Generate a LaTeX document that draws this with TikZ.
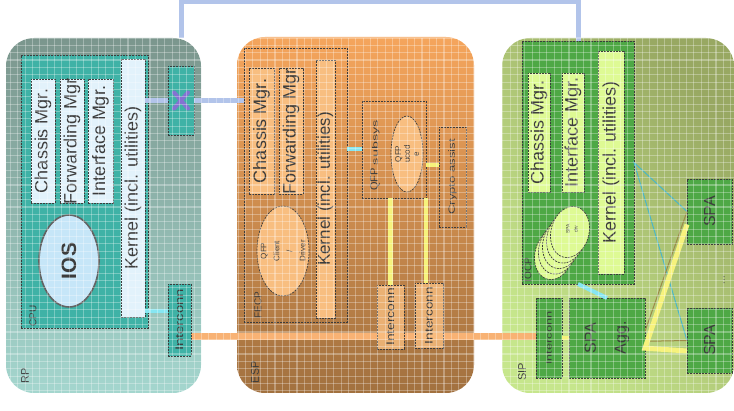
\documentclass[tikz,border=0pt]{standalone}
\usepackage{fontspec}
\setmainfont{Liberation Sans}
\usetikzlibrary{shapes.geometric,calc}
\pgfdeclarelayer{blocks}
\pgfdeclarelayer{lines}
\pgfsetlayers{blocks,lines,main}
\definecolor{rpTop}{HTML}{7B968D}
\definecolor{rpBot}{HTML}{A4D6CE}
\definecolor{teal1}{HTML}{3FB2A6}
\definecolor{ltblue}{HTML}{E2F2FB}
\definecolor{iosblue}{HTML}{C6E6F8}
\definecolor{fpTop}{HTML}{F5A55C}
\definecolor{fpBot}{HTML}{A2713F}
\definecolor{fpBox}{HTML}{F8BE80}
\definecolor{sipL}{HTML}{C6E68C}
\definecolor{sipR}{HTML}{98A862}
\definecolor{green1}{HTML}{4EA845}
\definecolor{lime1}{HTML}{DEFA94}
\definecolor{lav}{HTML}{B2C4EA}
\definecolor{orline}{HTML}{F8B274}
\definecolor{cyline}{HTML}{86E6F2}
\definecolor{yeline}{HTML}{F6F27C}
\definecolor{txtc}{HTML}{3C3C3C}
\definecolor{xcol}{HTML}{8472D2}
\definecolor{brline}{HTML}{9C8A48}
\definecolor{thincy}{HTML}{4AB6C8}
\newcommand\bx[6]{\node[#2, anchor=north west, inner sep=0pt, outer sep=0pt, minimum width={(#5)-(#3)}, minimum height={(#6)-(#4)}] (#1) at (#3,#4) {};}
\tikzset{
  blk/.style={rounded corners=28pt},
  dbox/.style={draw=txtc, line width=0.7pt, dash pattern=on 2pt off 1pt},
  lbl/.style={rotate=90, text=txtc, font=\fontsize{18}{20}\selectfont, inner sep=0pt},
  sml/.style={rotate=90, text=txtc, font=\fontsize{10}{11}\selectfont, inner sep=0pt},
  lavl/.style={draw=lav, line width=5pt},
  orl/.style={draw=orline, line width=7pt},
  cyl/.style={draw=cyline, line width=4pt},
  yel/.style={draw=yeline, line width=4.5pt},
  gridl/.style={draw=white, line width=1.1pt, opacity=0.3},
}
\begin{document}
\begin{tikzpicture}[x=1pt,y=-1pt]
\useasboundingbox (0,0) rectangle (734,411);
\coordinate (top) at (0,2);
% ---- outer blocks
\begin{pgfonlayer}{blocks}
\bx{rp}{blk, top color=rpTop, bottom color=rpBot}{6}{38}{201}{393}
\bx{fp}{blk, top color=fpTop, bottom color=fpBot}{237}{37}{474}{393}
\bx{sip}{blk, top color=sipR, bottom color=sipL, shading angle=-50}{502}{38}{734}{393}
\end{pgfonlayer}
% ---- RP
\bx{cpu}{dbox, fill=teal1}{21}{55}{148}{328}
\bx{rpcm}{dbox, fill=ltblue}{31}{79}{55}{203}
\bx{rpfm}{dbox, fill=ltblue}{60}{79}{84}{203}
\bx{rpim}{dbox, fill=ltblue}{88}{79}{113}{203}
\bx{rpk}{dbox, fill=ltblue}{121}{59}{145}{317}
\node[lbl] (rpcm-t) at (rpcm) {Chassis Mgr.};
\node[lbl] (rpfm-t) at (rpfm) {Forwarding Mgr};
\node[lbl] (rpim-t) at (rpim) {Interface Mgr.};
\node[lbl] (rpk-t) at (rpk) {Kernel (incl. utilities)};
\node[ellipse, draw=txtc!80, line width=1.6pt, fill=iosblue, minimum width=60pt, minimum height=92pt] (ios) at (69,261) {};
\node[lbl, font=\fontsize{21}{22}\selectfont\bfseries] (ios-t) at (ios) {IOS};
\node[sml] (cpu-t) at (33,316) {CPU};
\bx{sw}{dbox, fill=teal1}{168}{66}{194}{135}
\bx{rpic}{dbox, fill=teal1}{168}{284}{191}{356}
\node[sml, font=\fontsize{11}{11}\selectfont] (rpic-t) at (rpic) {\scalebox{1.35}[1]{Interconn}};
\node[sml, font=\fontsize{11}{11}\selectfont] (rp-t) at (25,376) {RP};
% ---- ESP
\bx{fecp}{dbox}{244}{48}{347}{322}
\bx{fpcm}{dbox, fill=fpBox}{249}{68}{274}{194}
\bx{fpfm}{dbox, fill=fpBox}{279}{68}{303}{194}
\bx{fpk}{dbox, fill=fpBox}{316}{60}{335}{318}
\node[lbl] (fpcm-t) at (fpcm) {Chassis Mgr.};
\node[lbl] (fpfm-t) at (fpfm) {Forwarding Mgr};
\node[lbl, font=\fontsize{17}{19}\selectfont] (fpk-t) at (fpk) {Kernel (incl. utilities)};
\node[ellipse, dbox, fill=fpBox, minimum width=52pt, minimum height=90pt] (qcd) at (283,251) {};
\node[sml, font=\fontsize{8}{13}\selectfont, align=center] (qcd-t) at (qcd) {QFP\\Client\\/\\Driver};
\node[sml, font=\fontsize{10}{11}\selectfont] (fecp-t) at (258,305) {FECP};
\bx{qfp}{dbox}{362}{101}{426}{198}
\node[sml, font=\fontsize{11}{11}\selectfont, anchor=west] (qfp-t) at (375,191) {QFP {\fontsize{8}{8}\selectfont\scalebox{1.8}[1]{subsys}}};
\node[ellipse, dbox, fill=fpBox, minimum width=32pt, minimum height=76pt] (ucode) at (407,154) {};
\node[sml, font=\fontsize{8}{9}\selectfont, align=center] (ucode-t) at (ucode) {QFP\\ucod\\e};
\bx{cry}{dbox}{439}{127}{466}{227}
\node[sml, font=\fontsize{9}{9}\selectfont] (cry-t) at (cry) {\scalebox{1.45}[1]{Crypto assist}};
\bx{ic1}{dbox, fill=fpBox, fill opacity=0.8}{377}{285}{404}{349}
\bx{ic2}{dbox, fill=fpBox, fill opacity=0.8}{415}{283}{443}{348}
\node[sml, font=\fontsize{11}{11}\selectfont] (ic1-t) at (ic1) {\scalebox{1.25}[1]{Interconn}};
\node[sml, font=\fontsize{11}{11}\selectfont] (ic2-t) at (ic2) {\scalebox{1.25}[1]{Interconn}};
\node[sml, font=\fontsize{11}{11}\selectfont] (esp-t) at (255,372) {ESP};
% ---- SIP
\bx{iocp}{dbox, fill=green1}{522}{41}{634}{284}
\bx{sipcm}{dbox, fill=lime1}{528}{73}{550}{192}
\bx{sipim}{dbox, fill=lime1}{562}{73}{584}{192}
\bx{sipk}{dbox, fill=lime1}{598}{51}{624}{274}
\node[lbl] (sipcm-t) at (sipcm) {Chassis Mgr.};
\node[lbl] (sipim-t) at (sipim) {Interface Mgr.};
\node[lbl] (sipk-t) at (sipk) {Kernel (incl. utilities)};
\foreach \i in {4,3,2,1,0}{
  \node[ellipse, dbox, fill=lime1, minimum width=38pt, minimum height=52pt, rotate=-15] (el\i) at (570-4*\i, 232+5.5*\i) {};
}
\node[sml, font=\fontsize{5}{8}\selectfont, align=center] (el0-t) at (572,229) {SPA\\drv};
\node[sml, font=\fontsize{10}{11}\selectfont] (iocp-t) at (528,270) {IOCP};
\bx{sipic}{dbox, fill=green1}{536}{298}{562}{378}
\bx{agg}{dbox, fill=green1}{569}{298}{645}{378}
\node[sml, font=\fontsize{8}{8}\selectfont] (sipic-t) at (sipic) {\scalebox{1.6}[1]{Interconn}};
\node[lbl, font=\fontsize{16}{30}\selectfont, align=center] (agg-t) at (agg) {SPA\\Agg.};
\bx{spa1}{dbox, fill=green1}{687}{179}{732}{244}
\bx{spa2}{dbox, fill=green1}{687}{308}{732}{373}
\node[lbl, font=\fontsize{16}{18}\selectfont] (spa1-t) at (spa1) {SPA};
\node[lbl, font=\fontsize{16}{18}\selectfont] (spa2-t) at (spa2) {SPA};
\node[sml] (dots-t) at (724,280) {...};
\node[sml, font=\fontsize{11}{11}\selectfont] (sip-t) at (522,372) {SIP};
% ---- connectors
\begin{pgfonlayer}{lines}
\draw[orl] (rpic.east |- 0,337) -- (sipic.west |- 0,337);
\draw[lavl] (sw.north |- rp.north) -- (sw.north |- top) -- (top -| iocp.north) -- (iocp.north);
\end{pgfonlayer}
\draw[lavl] (rpk.east |- sw.west) -- (sw.west);
\draw[lavl] (sw.east) -- (sw.east -| fecp.west);
\draw[xcol, line width=4pt, line cap=round] ($(sw)+(-7,-8)$) -- ($(sw)+(7,8)$) ($(sw)+(-7,8)$) -- ($(sw)+(7,-8)$);
\draw[cyl] (rpk.east |- 0,311) -- (rpic.west |- 0,311);
\draw[cyl] (qfp.west) -- (qfp.west -| fecp.east);
\draw[yel] (qfp.-26) -- (qfp.-26 -| cry.west);
\draw[yel] (ic1.north) -- (ic1.north |- qfp.south);
\draw[yel] (qfp.south east) -- (qfp.south east |- ic2.north);
\draw[yel] (agg.west) -- (agg.west -| sipic.east);
\draw[cyl] (iocp.south) -- (agg.north);
\draw[thincy, line width=1pt] (spa1.west) -- (iocp.east) -- (spa2.west);
\draw[brline, line width=1pt] (agg.10) -- (spa1.west);
\draw[brline, line width=1pt] (agg.-5) -- (spa2.west);
\draw[yel, line width=5pt] (spa1.210) -- (agg.-15) -- (spa2.205);
% ---- texture grid
\foreach \i in {0,...,100}{ \draw[gridl] (\i*7.35+3,38) -- (\i*7.35+3,393); }
\foreach \j in {0,...,49}{ \draw[gridl] (6,\j*7.35+38) -- (734,\j*7.35+38); }
\end{tikzpicture}
\end{document}
